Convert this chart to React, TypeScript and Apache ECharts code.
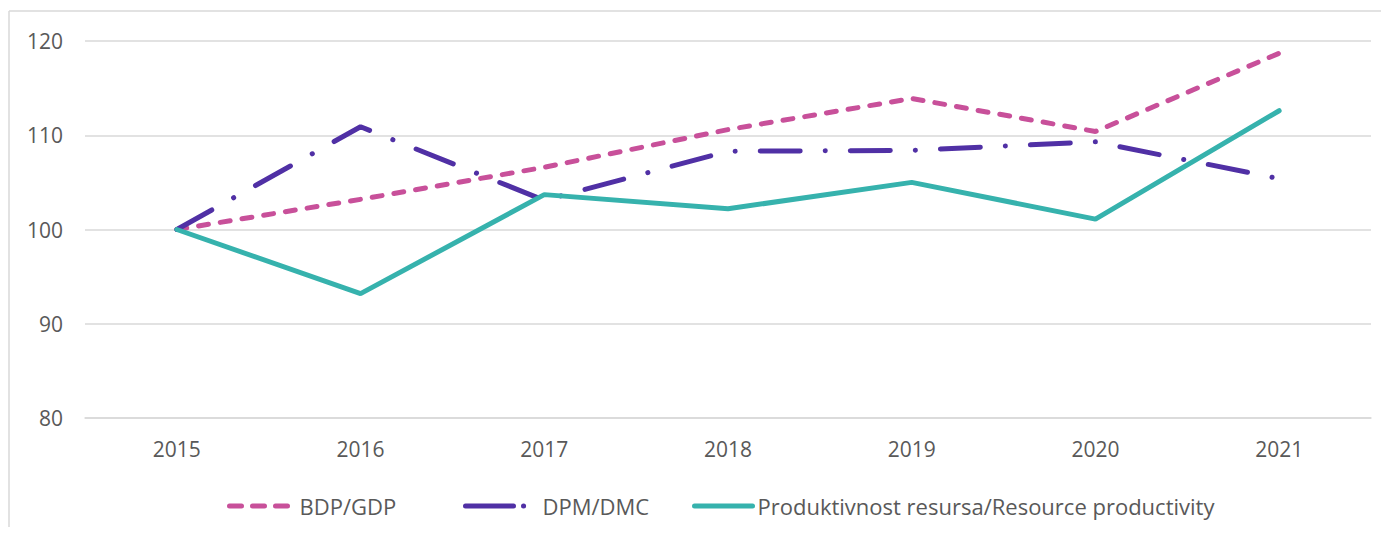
import React, { useEffect, useRef } from "react";
import * as echarts from "echarts";

const years = ["2015", "2016", "2017", "2018", "2019", "2020", "2021"];
const gdp = [100, 103.2, 106.6, 110.6, 113.9, 110.4, 118.7];
const dmc = [100, 110.9, 103.1, 108.3, 108.4, 109.3, 105.4];
const productivity = [100, 93.2, 103.7, 102.2, 105.0, 101.1, 112.6];
const seriesNames = ["BDP/GDP", "DPM/DMC", "Produktivnost resursa/Resource productivity"];

const TEXT = "#595959";
const FONT = "Open Sans";
const COLORS = ["#c8509a", "#5030a5", "#36b2ad"];
const DASHES: any[] = [[10, 12], [40, 25, 0.1, 25], "solid"];
const LEGEND_DASHES: any[] = [[12, 11], [48, 10, 0.1, 30], "solid"];

export default function App() {
  const ref = useRef<HTMLDivElement>(null);
  useEffect(() => {
    if (!ref.current) return;
    const chart = echarts.init(ref.current, undefined, { renderer: "svg" });
    const legendLefts = [214, 450, 679];
    const legendWidths = [65, 72, 58];
    chart.setOption({
      animation: false,
      backgroundColor: "#ffffff",
      textStyle: { fontFamily: FONT },
      graphic: [
        { type: "line", shape: { x1: 1, y1: 3, x2: 1, y2: 530 }, style: { stroke: "#d9d9d9", lineWidth: 1.5 } },
        { type: "line", shape: { x1: 1, y1: 3, x2: 1400, y2: 3 }, style: { stroke: "#d9d9d9", lineWidth: 1.5 } },
      ],
      grid: { left: 77, right: 10, top: 33, bottom: 109, containLabel: false },
      xAxis: {
        type: "category",
        data: years,
        boundaryGap: true,
        axisLine: { lineStyle: { color: "#d9d9d9", width: 1.5 } },
        axisTick: { show: false },
        axisLabel: { color: TEXT, fontSize: 21, fontFamily: FONT, margin: 20 },
      },
      yAxis: {
        type: "value",
        min: 80,
        max: 120,
        interval: 10,
        axisLine: { show: false },
        axisTick: { show: false },
        splitLine: { lineStyle: { color: "#d9d9d9", width: 1.5 } },
        axisLabel: { color: TEXT, fontSize: 21, fontFamily: FONT, margin: 22 },
      },
      legend: seriesNames.map((name, i) => ({
        left: legendLefts[i],
        top: 482,
        itemWidth: legendWidths[i],
        itemHeight: 14,
        itemGap: 8,
        itemStyle: { opacity: 0 },
        lineStyle: { width: 5, type: LEGEND_DASHES[i], cap: "round", color: COLORS[i] },
        textStyle: { color: TEXT, fontSize: 22, fontFamily: FONT },
        data: [name],
      })),
      series: [
        {
          name: seriesNames[0],
          type: "line",
          data: gdp,
          symbol: "none",
          lineStyle: { color: COLORS[0], width: 5, type: DASHES[0], cap: "round" },
          itemStyle: { color: COLORS[0] },
        },
        {
          name: seriesNames[1],
          type: "line",
          data: dmc,
          symbol: "none",
          lineStyle: { color: COLORS[1], width: 5, type: DASHES[1], cap: "round" },
          itemStyle: { color: COLORS[1] },
        },
        {
          name: seriesNames[2],
          type: "line",
          data: productivity,
          symbol: "none",
          lineStyle: { color: COLORS[2], width: 5, cap: "round" },
          itemStyle: { color: COLORS[2] },
        },
      ],
    });
    return () => chart.dispose();
  }, []);
  return <div ref={ref} style={{ width: "1373px", height: "519px" }} />;
}
